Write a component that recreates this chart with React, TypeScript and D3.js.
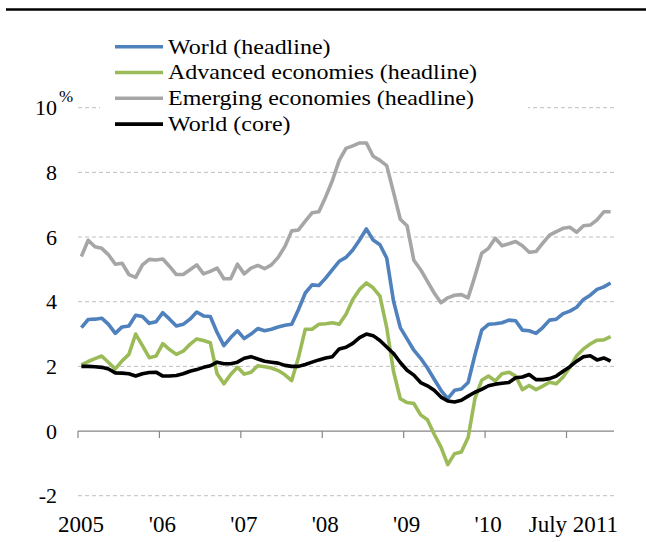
import React from "react";
import * as d3 from "d3";

const startYear = 2005;
const xTickLabels = ["2005", "'06", "'07", "'08", "'09", "'10"];
const endLabel = "July 2011";
const yTicks = [-2, 0, 2, 4, 6, 8, 10];

const worldHeadline = [
  3.2, 3.45, 3.46, 3.49, 3.3, 3.02, 3.22, 3.25, 3.58, 3.54, 3.33, 3.38,
  3.66, 3.46, 3.25, 3.3, 3.46, 3.68, 3.56, 3.54, 3.05, 2.64, 2.89, 3.1,
  2.86, 3.0, 3.17, 3.1, 3.15, 3.22, 3.27, 3.3, 3.76, 4.27, 4.52, 4.5,
  4.73, 4.99, 5.25, 5.37, 5.6, 5.91, 6.25, 5.91, 5.76, 5.35, 4.02, 3.2,
  2.85, 2.5, 2.25, 1.95, 1.6, 1.26, 1.0, 1.26, 1.3, 1.5, 2.35, 3.12,
  3.3, 3.32, 3.35, 3.43, 3.41, 3.12, 3.1, 3.02, 3.2, 3.43, 3.46, 3.63,
  3.71, 3.83, 4.07, 4.2, 4.38, 4.46, 4.58,
];

const advancedHeadline = [
  2.05, 2.15, 2.24, 2.32, 2.12, 1.92, 2.17, 2.37, 3.0, 2.64, 2.27, 2.32,
  2.7, 2.52, 2.37, 2.47, 2.68, 2.85, 2.8, 2.73, 1.77, 1.46, 1.75, 1.97,
  1.76, 1.82, 2.02, 1.99, 1.95, 1.87, 1.74, 1.56, 2.28, 3.15, 3.15, 3.3,
  3.32, 3.35, 3.3, 3.61, 4.07, 4.38, 4.58, 4.43, 4.17, 3.2, 1.85, 1.0,
  0.88, 0.85, 0.5, 0.35, -0.1, -0.5, -1.04, -0.7, -0.65, -0.2, 1.0, 1.57,
  1.7, 1.55, 1.77, 1.82, 1.7, 1.28, 1.41, 1.28, 1.39, 1.51, 1.46, 1.67,
  1.97, 2.33, 2.54, 2.69, 2.81, 2.82, 2.92,
];

const emergingHeadline = [
  5.4, 5.9, 5.7, 5.65, 5.45, 5.16, 5.19, 4.84, 4.75, 5.14, 5.31, 5.29,
  5.32, 5.09, 4.84, 4.84, 4.99, 5.14, 4.86, 4.94, 5.04, 4.71, 4.71, 5.16,
  4.86, 5.04, 5.12, 5.02, 5.14, 5.37, 5.71, 6.19, 6.22, 6.49, 6.75, 6.78,
  7.24, 7.75, 8.37, 8.74, 8.82, 8.91, 8.91, 8.5, 8.37, 8.21, 7.39, 6.55,
  6.35, 5.28, 4.99, 4.63, 4.27, 3.97, 4.12, 4.2, 4.22, 4.12, 4.79, 5.5,
  5.65, 5.96, 5.73, 5.79, 5.86, 5.73, 5.53, 5.55, 5.81, 6.06, 6.17, 6.27,
  6.3, 6.15, 6.35, 6.37, 6.53, 6.78, 6.78,
];

const worldCore = [
  2.0, 2.0, 1.99, 1.97, 1.92, 1.8, 1.79, 1.77, 1.7, 1.77, 1.81, 1.82,
  1.7, 1.7, 1.72, 1.77, 1.85, 1.9, 1.97, 2.02, 2.13, 2.08, 2.08, 2.13,
  2.25, 2.3, 2.23, 2.16, 2.13, 2.1, 2.03, 2.0, 2.0, 2.06, 2.13, 2.2,
  2.26, 2.3, 2.54, 2.59, 2.71, 2.89, 3.0, 2.95, 2.8, 2.6, 2.4, 2.12,
  1.88, 1.73, 1.5, 1.4, 1.26, 1.05, 0.93, 0.9, 0.95, 1.08, 1.2, 1.29,
  1.4, 1.45, 1.48, 1.5, 1.65, 1.67, 1.75, 1.59, 1.59, 1.62, 1.7, 1.85,
  1.99, 2.16, 2.3, 2.33, 2.2, 2.26, 2.16,
];

const seriesNames = [
  "World (headline)",
  "Advanced economies (headline)",
  "Emerging economies (headline)",
  "World (core)",
];
const seriesColors = ["#4F81BD", "#9BBB59", "#A6A6A6", "#000000"];
const seriesData = [worldHeadline, advancedHeadline, emergingHeadline, worldCore];
// drawing order: emerging, world, advanced, core on top
const drawOrder = [2, 0, 1, 3];

const W = 646;
const H = 542;
const FONT = "'Liberation Serif', 'Times New Roman', serif";

export default function App() {
  const n = worldHeadline.length;
  const x = d3.scaleLinear().domain([0, n]).range([78, 614]);
  const y = d3.scaleLinear().domain([-2, 10]).range([495.7, 107.7]);
  const line = d3
    .line<number>()
    .x((_, i) => x(i + 0.5))
    .y((d) => y(d));

  const tickIdx = xTickLabels.map((_, k) => k * 12).concat([72]);

  return (
    <svg
      width={W}
      height={H}
      style={{ position: "absolute", left: 0, top: 0, background: "#fff" }}
      fontFamily={FONT}
    >
      <rect x={0} y={0} width={W} height={H} fill="#fff" />
      <line x1={6} x2={W} y1={9.5} y2={9.5} stroke="#000" strokeWidth={2.5} />

      {/* gridlines */}
      {yTicks
        .filter((v) => v !== 0)
        .map((v) => (
          <line
            key={"g" + v}
            x1={x(0)}
            x2={x(n)}
            y1={y(v)}
            y2={y(v)}
            stroke="#BFBFBF"
            strokeWidth={1}
            strokeDasharray="4 3"
          />
        ))}

      {/* y labels */}
      {yTicks.map((v) => (
        <text
          key={"yl" + v}
          x={57}
          y={y(v) + 7.5}
          textAnchor="end"
          fontSize={22}
          fill="#000"
        >
          {v}
        </text>
      ))}
      <text x={59} y={102} fontSize={17} fill="#000">
        %
      </text>

      {/* zero axis */}
      <line x1={x(0)} x2={x(n)} y1={y(0)} y2={y(0)} stroke="#868686" strokeWidth={1.2} />
      {tickIdx.map((i) => (
        <line
          key={"t" + i}
          x1={x(i)}
          x2={x(i)}
          y1={y(0)}
          y2={y(0) + 7}
          stroke="#868686"
          strokeWidth={1.2}
        />
      ))}

      {/* x labels */}
      {xTickLabels.map((lab, k) => (
        <text
          key={"xl" + k}
          x={x(k * 12) + 3}
          y={532}
          textAnchor="middle"
          fontSize={23}
          fill="#000"
        >
          {lab}
        </text>
      ))}
      <text x={618} y={532} textAnchor="end" fontSize={23} fill="#000">
        {endLabel}
      </text>

      {/* series */}
      {drawOrder.map((s) => (
        <path
          key={"s" + s}
          d={line(seriesData[s]) || ""}
          fill="none"
          stroke={seriesColors[s]}
          strokeWidth={3.6}
          strokeLinejoin="round"
        />
      ))}

      {/* legend */}
      <rect x={100} y={30} width={428} height={105} fill="#fff" />
      {seriesNames.map((name, k) => {
        const ly = 46.7 + k * 25.8;
        return (
          <g key={"lg" + k}>
            <line
              x1={115}
              x2={163}
              y1={ly}
              y2={ly}
              stroke={seriesColors[k]}
              strokeWidth={3.6}
            />
            <g transform={`translate(168,${ly + 6.8}) scale(1.2,1)`}>
              <text x={0} y={0} fontSize={20} fill="#000">
                {name}
              </text>
            </g>
          </g>
        );
      })}
    </svg>
  );
}
